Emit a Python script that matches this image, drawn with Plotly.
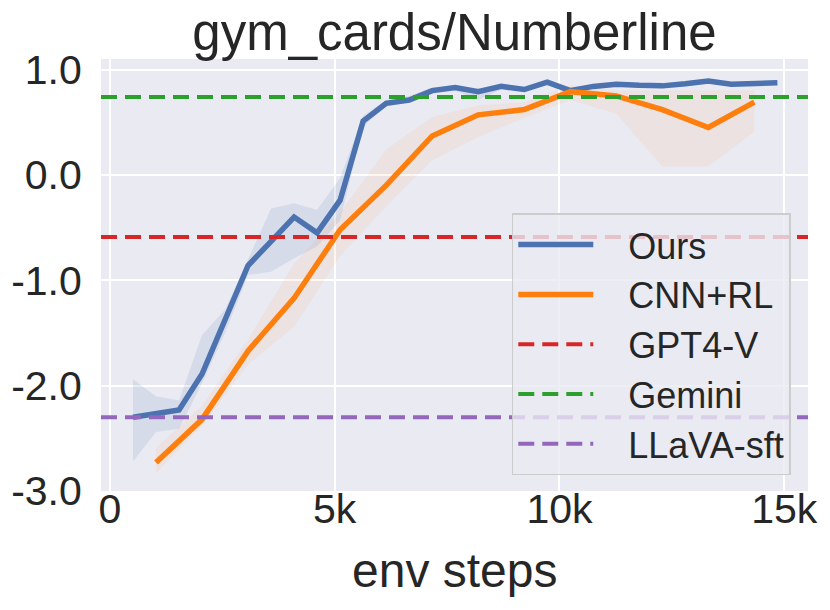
import plotly.graph_objects as go

# env steps for each run
steps_ours = [512, 1024, 1536, 2048, 2560, 3072, 3584, 4096, 4608, 5120,
              5632, 6144, 6656, 7168, 7680, 8192, 8704, 9216, 9728, 10240,
              10752, 11264, 11776, 12288, 12800, 13312, 13824, 14336, 14848]
steps_cnn = [1024, 2048, 3072, 4096, 5120, 6144, 7168, 8192, 9216, 10240,
             11264, 12288, 13312, 14336]

# mean return and shaded band
ours_mean = [-2.30, -2.27, -2.23, -1.89, -1.38, -0.86, -0.63, -0.40, -0.55, -0.24,
             0.51, 0.68, 0.71, 0.80, 0.83, 0.79, 0.84, 0.81, 0.88, 0.80,
             0.84, 0.86, 0.85, 0.845, 0.865, 0.89, 0.86, 0.865, 0.875]
ours_low = [-2.72, -2.44, -2.41, -1.98, -1.50, -0.95, -0.92, -0.79, -0.68, -0.43,
            0.46, 0.65, 0.69, 0.77, 0.80, 0.71, 0.81, 0.79, 0.85, 0.78,
            0.82, 0.84, 0.83, 0.82, 0.84, 0.87, 0.84, 0.85, 0.86]
ours_high = [-1.94, -2.10, -2.14, -1.52, -1.28, -0.80, -0.32, -0.27, -0.33, -0.03,
             0.56, 0.71, 0.75, 0.83, 0.85, 0.82, 0.86, 0.84, 0.90, 0.83,
             0.86, 0.88, 0.87, 0.87, 0.89, 0.91, 0.88, 0.88, 0.89]

cnn_mean = [-2.73, -2.32, -1.67, -1.17, -0.52, -0.10, 0.37, 0.57, 0.62, 0.79,
            0.75, 0.62, 0.45, 0.69]
cnn_low = [-2.83, -2.38, -1.80, -1.44, -0.77, -0.30, 0.14, 0.36, 0.54, 0.71,
           0.58, 0.08, 0.08, 0.41]
cnn_high = [-2.59, -2.19, -1.56, -0.84, -0.36, 0.24, 0.55, 0.66, 0.69, 0.85,
            0.80, 0.80, 0.80, 0.80]

# baselines (horizontal reference lines)
baseline_names = ["GPT4-V", "Gemini", "LLaVA-sft"]
baseline_values = [-0.59, 0.74, -2.30]
baseline_colors = ["#D62728", "#2CA02C", "#9467BD"]

x_ticks = [0, 5000, 10000, 15000]
x_labels = ["0", "5k", "10k", "15k"]
y_ticks = [-3.0, -2.0, -1.0, 0.0, 1.0]
y_labels = ["-3.0", "-2.0", "-1.0", "0.0", "1.0"]

FONT = "Liberation Sans, Arial, sans-serif"
TXT = "#262626"
PAD = "\u00a0\u00a0\u00a0"  # gap between legend symbol and text

fig = go.Figure()

# shaded bands
for xs, lo, hi, fill in [(steps_ours, ours_low, ours_high, "rgba(76,114,176,0.12)"),
                         (steps_cnn, cnn_low, cnn_high, "rgba(255,127,14,0.07)")]:
    fig.add_trace(go.Scatter(x=xs + xs[::-1], y=hi + lo[::-1], fill="toself",
                             fillcolor=fill, line=dict(width=0), mode="lines",
                             showlegend=False, hoverinfo="skip"))

fig.add_trace(go.Scatter(x=steps_ours, y=ours_mean, mode="lines", name=PAD + "Ours",
                         line=dict(color="#4C72B0", width=5.5), legendrank=1))
fig.add_trace(go.Scatter(x=steps_cnn, y=cnn_mean, mode="lines", name=PAD + "CNN+RL",
                         line=dict(color="#FF7F0E", width=5.5), legendrank=2))

for i, (name, val, col) in enumerate(zip(baseline_names, baseline_values, baseline_colors)):
    fig.add_hline(y=val, line=dict(color=col, width=4, dash="16px,8px"),
                  showlegend=True, name=PAD + name, legendrank=3 + i)

# x axis title as an annotation so it can sit exactly below the tick labels
fig.add_annotation(text="env steps", xref="paper", yref="paper", x=0.5, y=-0.183,
                   xanchor="center", yanchor="middle", showarrow=False,
                   font=dict(size=48, color=TXT))

fig.update_layout(
    width=830, height=610,
    paper_bgcolor="white", plot_bgcolor="#EAEAF2",
    margin=dict(l=101, r=22, t=59, b=119),
    font=dict(family=FONT, color=TXT),
    title=dict(text="gym_cards/Numberline", font=dict(size=51, color=TXT),
               x=(101 + 808) / 2 / 830, xanchor="center",
               y=1 - 32 / 610, yanchor="middle", yref="container"),
    xaxis=dict(range=[-200, 15530], tickvals=x_ticks, ticktext=x_labels,
               tickfont=dict(size=41), showgrid=True, gridcolor="white", gridwidth=1.8,
               zeroline=False, showline=False, ticks="", ticklabelstandoff=-10,
               automargin=False),
    yaxis=dict(range=[-3.0, 1.1], tickvals=y_ticks, ticktext=y_labels,
               tickfont=dict(size=41), showgrid=True, gridcolor="white", gridwidth=1.8,
               zeroline=False, showline=False, ticks="outside", ticklen=10,
               tickcolor="rgba(0,0,0,0)", automargin=False),
    legend=dict(x=0.581, y=0.643, xanchor="left", yanchor="top",
                bgcolor="rgba(234,234,242,0.8)", bordercolor="#CCCCCC", borderwidth=1.5,
                font=dict(size=36, color=TXT), itemwidth=75, tracegroupgap=0),
    showlegend=True,
)

# drop the default 8px page margin so the figure fills the window
fig.write_html("out.html", config={"displayModeBar": False},
               post_script="document.body.style.margin='0';")
